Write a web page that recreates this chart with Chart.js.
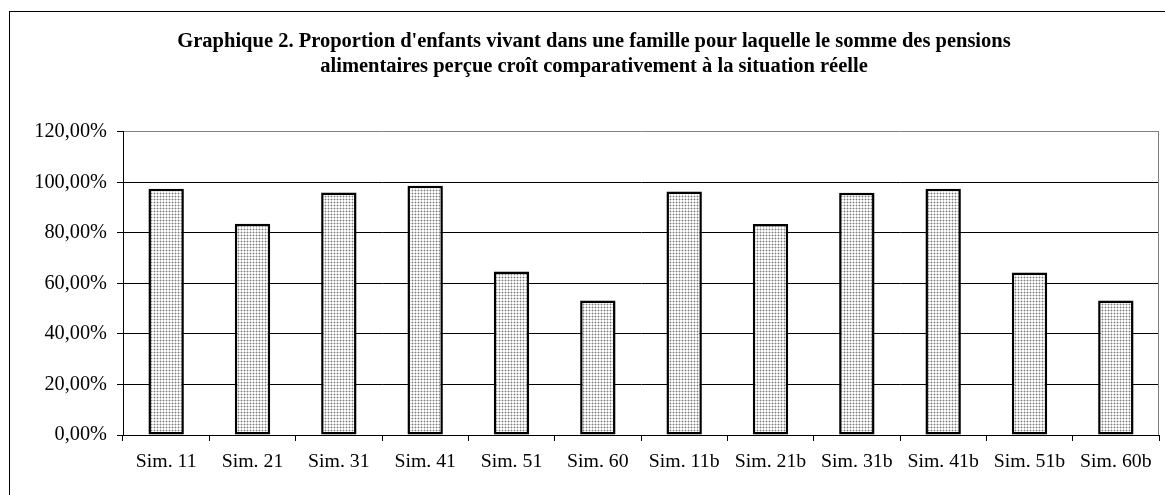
<!DOCTYPE html>
<html>
<head>
<meta charset="utf-8">
<script src="https://cdn.jsdelivr.net/npm/chart.js@4/dist/chart.umd.min.js"></script>
<style>
  html, body { margin: 0; padding: 0; background: #fff; }
  #wrap { width: 1165px; height: 495px; }
</style>
</head>
<body>
<div id="wrap"><canvas id="chart" width="1165" height="495"></canvas></div>
<script>
const categories = ["Sim. 11", "Sim. 21", "Sim. 31", "Sim. 41", "Sim. 51", "Sim. 60",
                    "Sim. 11b", "Sim. 21b", "Sim. 31b", "Sim. 41b", "Sim. 51b", "Sim. 60b"];
const proportions = [97.4, 83.6, 95.9, 98.6, 64.7, 53.2, 96.3, 83.5, 95.8, 97.4, 64.3, 53.2];
const yTicks = [0, 20, 40, 60, 80, 100, 120];
const titleLines = [
    "Graphique 2. Proportion d'enfants vivant dans une famille pour laquelle le somme des pensions",
    "alimentaires perçue croît comparativement à la situation réelle"
];

const serif = "'Liberation Serif', 'Times New Roman', serif";

// dotted fill like the old spreadsheet pattern
function dotPattern() {
    const c = document.createElement("canvas");
    c.width = 3;
    c.height = 3;
    const g = c.getContext("2d");
    g.fillStyle = "#ffffff";
    g.fillRect(0, 0, 3, 3);
    g.fillStyle = "#d0d0d0";
    g.fillRect(0, 1, 3, 1);
    g.fillRect(1, 0, 1, 3);
    g.fillStyle = "#7a7a7a";
    g.fillRect(1, 1, 1, 1);
    return g.createPattern(c, "repeat");
}

const frame = {
    id: "frame",
    afterDraw(chart) {
        const ctx = chart.ctx;
        const a = chart.chartArea;
        ctx.save();
        ctx.strokeStyle = "#000";
        ctx.lineWidth = 1;
        ctx.strokeRect(9.5, 11.5, 1170, 500);
        ctx.strokeStyle = "#808080";
        ctx.beginPath();
        ctx.moveTo(Math.round(a.right) - 0.5, a.top);
        ctx.lineTo(Math.round(a.right) - 0.5, a.bottom);
        ctx.stroke();
        ctx.restore();
    }
};

const ctx = document.getElementById("chart").getContext("2d");
new Chart(ctx, {
    type: "bar",
    data: {
        labels: categories,
        datasets: [{
            data: proportions,
            backgroundColor: dotPattern(),
            borderColor: "#000",
            borderWidth: 2.5,
            borderSkipped: false,
            barPercentage: 0.41,
            categoryPercentage: 1
        }]
    },
    options: {
        responsive: false,
        animation: false,
        layout: { padding: { left: 29, right: 6, top: 0, bottom: 0 } },
        plugins: {
            legend: { display: false },
            tooltip: { enabled: false },
            title: {
                display: true,
                text: titleLines,
                color: "#000",
                font: { family: serif, size: 20.5, weight: "bold" },
                lineHeight: 1.08,
                padding: { top: 29.5, bottom: 53 }
            }
        },
        scales: {
            y: {
                min: 0,
                max: 120,
                afterBuildTicks(scale) {
                    scale.ticks = yTicks.map(v => ({ value: v }));
                },
                afterFit(scale) { scale.width = 94; },
                border: { color: "#000", width: 1 },
                grid: {
                    color: c => (c.tick && c.tick.value === 120) ? "#808080" : "#000",
                    tickColor: "#000",
                    tickLength: 6
                },
                ticks: {
                    color: "#000",
                    padding: 10,
                    font: { family: serif, size: 20.3 },
                    callback: v => v.toFixed(2).replace(".", ",") + "%"
                }
            },
            x: {
                afterFit(scale) { scale.height = 60; },
                border: { color: "#000", width: 1 },
                grid: {
                    offset: true,
                    drawOnChartArea: false,
                    tickColor: "#000",
                    tickLength: 6
                },
                ticks: {
                    color: "#000",
                    padding: 9,
                    maxRotation: 0,
                    autoSkip: false,
                    font: { family: serif, size: 19.8 }
                }
            }
        }
    },
    plugins: [frame]
});
</script>
</body>
</html>
